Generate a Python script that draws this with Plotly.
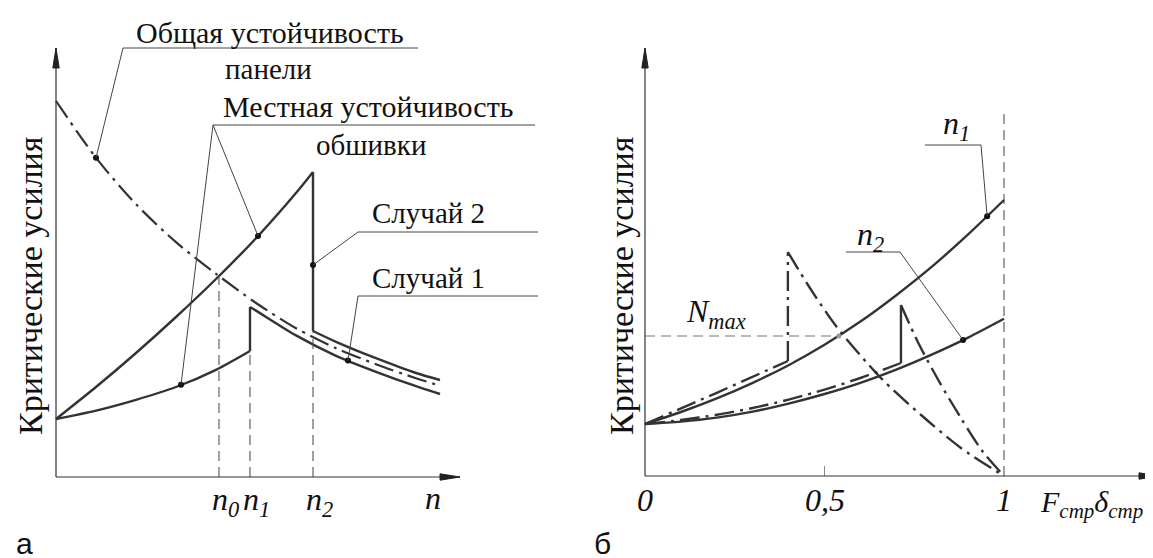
import numpy as np
import plotly.graph_objects as go

# ---------------- Panel "а" data (n, critical force; schematic units) ----------------
n_general = [0, 1, 2, 3, 4, 5, 6, 7, 8, 9, 9.6]
N_general = [9.40, 7.98, 6.82, 5.87, 5.08, 4.35, 3.72, 3.22, 2.82, 2.47, 2.28]

n_case2_rise = [0, 1, 2, 3, 4, 5, 6, 6.425]
N_case2_rise = [1.45, 2.25, 3.10, 4.00, 4.95, 5.97, 7.10, 7.625]
n_case2_tail = [6.425, 7, 8, 9, 9.6]
N_case2_tail = [3.65, 3.38, 2.97, 2.60, 2.425]

n_case1_rise = [0, 1, 2, 3, 4, 4.85]
N_case1_rise = [1.45, 1.66, 1.93, 2.25, 2.68, 3.15]
n_case1_tail = [4.85, 5, 6, 7, 8, 9, 9.6]
N_case1_tail = [4.25, 4.16, 3.54, 3.03, 2.63, 2.27, 2.075]

n_marks = [4.075, 4.85, 6.425]
n_mark_tops = [5.025, 3.15, 3.65]
n_mark_labels = ["<i>n</i><sub><i>0</i></sub>", "<i>n</i><sub><i>1</i></sub>", "<i>n</i><sub><i>2</i></sub>"]

# ---------------- Panel "б" data (F_стр δ_стр, critical force) ----------------
F_grid = [0, 0.1, 0.2, 0.3, 0.4, 0.5, 0.6, 0.7, 0.8, 0.9, 1.0]
N_n1 = [1.30, 1.60, 1.94, 2.33, 2.77, 3.28, 3.86, 4.52, 5.24, 6.04, 6.90]
N_n2 = [1.30, 1.36, 1.46, 1.61, 1.81, 2.05, 2.33, 2.66, 3.04, 3.46, 3.93]

F_dd1_rise = [0, 0.2, 0.398]
N_dd1_rise = [1.30, 2.08, 2.875]
F_dd1_fall = [0.398, 0.454, 0.532, 0.657, 0.769, 0.88, 1.0]
N_dd1_fall = [5.60, 4.775, 3.75, 2.45, 1.525, 0.70, 0.0]

F_dd2_rise = [0, 0.1, 0.2, 0.3, 0.4, 0.5, 0.6, 0.713]
N_dd2_rise = [1.30, 1.40, 1.53, 1.70, 1.91, 2.16, 2.45, 2.825]
F_dd2_fall = [0.713, 0.76, 0.82, 0.88, 0.94, 1.0]
N_dd2_fall = [4.275, 3.35, 2.35, 1.45, 0.62, 0.0]

N_max = 3.5
F_opt = 0.54
x_tick_vals_b = [0, 0.5, 1]
x_tick_text_b = ["<i>0</i>", "<i>0,5</i>", "<i>1</i>"]

# ---------------- layout helpers (pixel -> axis units) ----------------
W, H = 1153, 558
A_OX, A_OY, A_SX, A_SY = 48, 469, 40.0, 40.0
B_OX, B_OY, B_SX, B_SY = 637, 468, 359.0, 40.0
def ax_(px): return (px - A_OX) / A_SX
def ay_(py): return (A_OY - py) / A_SY
def bx_(px): return (px - B_OX) / B_SX
def by_(py): return (B_OY - py) / B_SY

INK = "#333333"
SERIF = "Liberation Serif"
SANS = "Liberation Sans"
DASHDOT = "20px,6px,3px,6px"

fig = go.Figure()

def line(x, y, xa="x", ya="y", dash="solid", width=2.4, color=INK, shape="spline"):
    fig.add_trace(go.Scatter(x=x, y=y, xaxis=xa, yaxis=ya, mode="lines",
                             line=dict(color=color, width=width, dash=dash, shape=shape,
                                       smoothing=0.8 if shape == "spline" else None),
                             hoverinfo="skip", showlegend=False))

def dots(x, y, xa="x", ya="y", color="#111111", size=6):
    fig.add_trace(go.Scatter(x=x, y=y, xaxis=xa, yaxis=ya, mode="markers",
                             marker=dict(color=color, size=size), hoverinfo="skip",
                             showlegend=False))

# ---- panel а curves ----
line(n_general, N_general, dash=DASHDOT, width=2.2)
line(n_case2_rise, N_case2_rise)
line([n_case2_rise[-1], n_case2_tail[0]], [N_case2_rise[-1], N_case2_tail[0]], shape="linear")
line(n_case2_tail, N_case2_tail)
line(n_case1_rise, N_case1_rise)
line([n_case1_rise[-1], n_case1_tail[0]], [N_case1_rise[-1], N_case1_tail[0]], shape="linear")
line(n_case1_tail, N_case1_tail)
for xm, ym in zip(n_marks, n_mark_tops):
    line([xm, xm], [0, ym], dash="10px,6px", width=1.1, color="#555555", shape="linear")

dot_a_x = [1.0, 5.05, 6.425, 3.125, 7.3]
dot_a_y = [float(np.interp(1.0, n_general, N_general)),
           float(np.interp(5.05, n_case2_rise, N_case2_rise)),
           5.3,
           float(np.interp(3.125, n_case1_rise, N_case1_rise)),
           float(np.interp(7.3, n_case1_tail, N_case1_tail))]
dots(dot_a_x, dot_a_y)

# ---- panel б curves ----
line([0, F_opt], [N_max, N_max], "x2", "y2", dash="10px,6px", width=1.1, color="#777777", shape="linear")
line([1, 1], [0, by_(102)], "x2", "y2", dash="10px,6px", width=1.1, color="#555555", shape="linear")
line(F_grid, N_n1, "x2", "y2")
line(F_grid, N_n2, "x2", "y2")
line(F_dd1_rise, N_dd1_rise, "x2", "y2", dash=DASHDOT, shape="linear")
line([F_dd1_rise[-1], F_dd1_fall[0]], [N_dd1_rise[-1], N_dd1_fall[0]], "x2", "y2", dash=DASHDOT, shape="linear")
line(F_dd1_fall, N_dd1_fall, "x2", "y2", dash=DASHDOT)
line(F_dd2_rise, N_dd2_rise, "x2", "y2", dash=DASHDOT)
line([F_dd2_rise[-1], F_dd2_fall[0]], [N_dd2_rise[-1], N_dd2_fall[0]], "x2", "y2", dash="solid", shape="linear")
line(F_dd2_fall, N_dd2_fall, "x2", "y2", dash=DASHDOT)
line([0.5, 0.5], [0, 0.25], "x2", "y2", width=1, color="#888888", shape="linear")

dot_b_x = [0.953, 0.886]
dot_b_y = [float(np.interp(0.953, F_grid, N_n1)), float(np.interp(0.886, F_grid, N_n2))]
dots(dot_b_x, dot_b_y, "x2", "y2")
dots([F_opt], [N_max], "x2", "y2", color="#999999", size=5)

shapes = []
def seg(x0, y0, x1, y1, xr, yr, w=1.0, color="#444444"):
    shapes.append(dict(type="line", x0=x0, y0=y0, x1=x1, y1=y1, xref=xr, yref=yr,
                       line=dict(color=color, width=w)))

# ---- axes with slender arrowheads (pixel geometry -> axis units) ----
def axis_arrow(ox, oy, tx, ty, fx, fy, xr, yr):
    seg(fx(ox), fy(oy), fx(tx), fy(ty), xr, yr, w=1.2, color="#333333")
    L, hw = 20.0, 3.2
    dx, dy = tx - ox, ty - oy
    d = (dx * dx + dy * dy) ** 0.5
    ux, uy = dx / d, dy / d
    bxp, byp = tx - ux * L, ty - uy * L
    p1 = (bxp - uy * hw, byp + ux * hw)
    p2 = (bxp + uy * hw, byp - ux * hw)
    path = "M {} {} L {} {} L {} {} Z".format(fx(tx), fy(ty), fx(p1[0]), fy(p1[1]),
                                              fx(p2[0]), fy(p2[1]))
    shapes.append(dict(type="path", path=path, xref=xr, yref=yr,
                       fillcolor="#222222", line=dict(color="#222222", width=1)))

axis_arrow(A_OX, A_OY, A_OX, 40, ax_, ay_, "x", "y")
axis_arrow(A_OX, A_OY, 452, A_OY, ax_, ay_, "x", "y")
axis_arrow(B_OX, B_OY, B_OX, 40, bx_, by_, "x2", "y2")
axis_arrow(B_OX, B_OY, 1151, B_OY, bx_, by_, "x2", "y2")

ann = []
def text(s, x, y, xr, yr, size=29, family=SERIF, angle=0, xanchor="center"):
    ann.append(dict(x=x, y=y, xref=xr, yref=yr, text=s, showarrow=False, textangle=angle,
                    xanchor=xanchor, yanchor="middle",
                    font=dict(family=family, size=size, color="#111111")))

# panel а texts
text("Общая устойчивость", ax_(262), ay_(24), "x", "y", size=30)
text("панели", ax_(260), ay_(61), "x", "y")
text("Местная устойчивость", ax_(360), ay_(98), "x", "y", size=30)
text("обшивки", ax_(363), ay_(137), "x", "y")
text("Случай 2", ax_(420), ay_(205), "x", "y")
text("Случай 1", ax_(420), ay_(270), "x", "y")
text("Критические усилия", ax_(22), ay_(278), "x", "y", size=34, angle=-90)
for xm, lab in zip(n_marks, n_mark_labels):
    text(lab, xm + 0.15, ay_(493), "x", "y", size=32)
text("<i>n</i>", ax_(425), ay_(490), "x", "y", size=32)
text("а", ax_(16), ay_(535), "x", "y", size=30, family=SANS)

# panel б texts
text("Критические усилия", bx_(613), by_(278), "x2", "y2", size=34, angle=-90)
for xv, lab in zip(x_tick_vals_b, x_tick_text_b):
    text(lab, xv, by_(492), "x2", "y2", size=32)
text("<i>F</i><sub><i>стр</i></sub><i>δ</i><sub><i>стр</i></sub>", bx_(1030), by_(496), "x2", "y2",
     size=30, xanchor="left")
text("<i>n</i><sub><i>1</i></sub>", bx_(948), by_(117), "x2", "y2", size=32)
text("<i>n</i><sub><i>2</i></sub>", bx_(862), by_(228), "x2", "y2", size=32)
text("<i>N</i><sub><i>max</i></sub>", bx_(708), by_(305), "x2", "y2", size=32)
text("б", bx_(594), by_(535), "x2", "y2", size=30, family=SANS)

# ---- leader lines ----
seg(ax_(115), ay_(40), ax_(410), ay_(40), "x", "y")
seg(ax_(115), ay_(40), dot_a_x[0], dot_a_y[0], "x", "y")
seg(ax_(205), ay_(117), ax_(527), ay_(117), "x", "y")
seg(ax_(205), ay_(117), dot_a_x[1], dot_a_y[1], "x", "y")
seg(ax_(205), ay_(117), dot_a_x[3], dot_a_y[3], "x", "y")
seg(ax_(350), ay_(224), ax_(530), ay_(224), "x", "y")
seg(ax_(350), ay_(224), dot_a_x[2], dot_a_y[2], "x", "y")
seg(ax_(350), ay_(288), ax_(530), ay_(288), "x", "y")
seg(ax_(350), ay_(288), dot_a_x[4], dot_a_y[4], "x", "y")
seg(bx_(917), by_(137), bx_(973), by_(137), "x2", "y2")
seg(bx_(973), by_(137), dot_b_x[0], dot_b_y[0], "x2", "y2")
seg(bx_(838), by_(244), bx_(892), by_(244), "x2", "y2")
seg(bx_(892), by_(244), dot_b_x[1], dot_b_y[1], "x2", "y2")

hidden = dict(visible=False, fixedrange=True)
fig.update_layout(
    width=W, height=H, margin=dict(l=0, r=0, t=0, b=0),
    paper_bgcolor="white", plot_bgcolor="white", showlegend=False,
    font=dict(family=SERIF),
    xaxis=dict(domain=[0, 0.5], range=[ax_(0), ax_(W / 2)], **hidden),
    yaxis=dict(domain=[0, 1], range=[ay_(H), ay_(0)], **hidden),
    xaxis2=dict(domain=[0.5, 1], range=[bx_(W / 2), bx_(W)], anchor="y2", **hidden),
    yaxis2=dict(domain=[0, 1], range=[by_(H), by_(0)], anchor="x2", **hidden),
    annotations=ann, shapes=shapes,
)
fig.write_html("out.html")
